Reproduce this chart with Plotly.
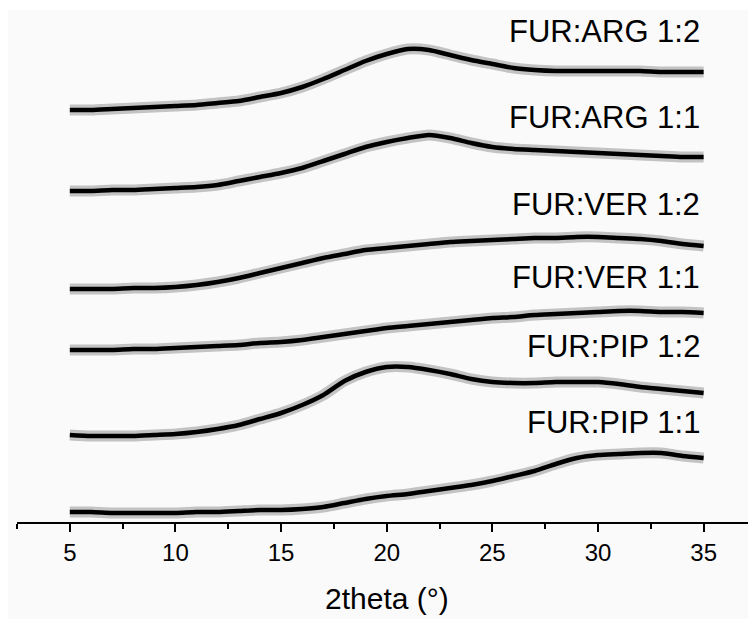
import plotly.graph_objects as go

two_theta = list(range(5, 36))

samples = ["FUR:ARG 1:2", "FUR:ARG 1:1", "FUR:VER 1:2", "FUR:VER 1:1", "FUR:PIP 1:2", "FUR:PIP 1:1"]

arg_1_2 = [412, 412, 413, 414, 415, 416, 417, 419, 421, 425, 429, 435, 443, 452, 461, 468,
           473, 472, 467, 462, 458, 454, 452, 451, 451, 451, 451, 451, 450, 450, 450]
arg_1_1 = [331, 331, 332, 332, 333, 334, 335, 337, 341, 345, 349, 354, 361, 368, 375, 380,
           384, 387, 384, 379, 375, 373, 372, 371, 370, 369, 368, 367, 366, 365, 365]
ver_1_2 = [233, 233, 233, 234, 234, 235, 237, 240, 244, 249, 254, 259, 264, 268, 272, 274,
           276, 278, 280, 281, 282, 283, 284, 284, 285, 285, 284, 283, 281, 278, 276]
ver_1_1 = [172, 172, 172, 173, 173, 174, 175, 176, 177, 179, 180, 182, 185, 188, 191, 194,
           196, 198, 200, 202, 204, 205, 207, 208, 209, 210, 211, 211, 210, 210, 209]
pip_1_2 = [87, 86, 86, 86, 87, 88, 90, 93, 97, 103, 109, 117, 127, 141, 150, 155,
           155, 152, 148, 143, 140, 139, 139, 140, 140, 140, 138, 135, 133, 131, 129]
pip_1_1 = [10, 10, 9, 9, 9, 9, 10, 10, 11, 12, 12, 13, 15, 19, 23, 26,
           28, 31, 34, 37, 41, 46, 51, 58, 64, 67, 68, 69, 69, 66, 64]

series = [arg_1_2, arg_1_1, ver_1_2, ver_1_1, pip_1_2, pip_1_1]
label_y = [491, 405, 318, 245, 176, 100]

x_ticks = [5, 10, 15, 20, 25, 30, 35]

FONT = "Liberation Sans, Arial"

fig = go.Figure()
for name, ys in zip(samples, series):
    fig.add_trace(go.Scatter(x=two_theta, y=ys, mode="lines", name=name + " halo",
                             line=dict(color="rgba(0,0,0,0.22)", width=11, shape="spline", smoothing=0.6),
                             hoverinfo="skip", showlegend=False))
    fig.add_trace(go.Scatter(x=two_theta, y=ys, mode="lines", name=name,
                             line=dict(color="black", width=4.5, shape="spline", smoothing=0.6),
                             showlegend=False))

for name, ly in zip(samples, label_y):
    fig.add_annotation(x=34.92, y=ly, text=name, showarrow=False, xanchor="right",
                       yanchor="middle", font=dict(family=FONT, size=31, color="black"))

fig.add_annotation(x=20, xref="x", y=-0.1475, yref="paper", text="2theta (°)", showarrow=False,
                   xanchor="center", yanchor="middle",
                   font=dict(family=FONT, size=30, color="black"))

fig.add_shape(type="rect", xref="paper", yref="paper", x0=-0.0123, x1=1.0, y0=-0.186, y1=0.9808,
              fillcolor="#fafafa", line=dict(width=0), layer="below")

fig.update_layout(
    width=748, height=619,
    margin=dict(l=17, r=0, t=0, b=97),
    paper_bgcolor="white", plot_bgcolor="rgba(0,0,0,0)",
    font=dict(family=FONT, color="black"),
    xaxis=dict(range=[2.5, 37.1], tickvals=x_ticks, ticks="outside", ticklen=8, tickwidth=2,
               tickcolor="black", showline=True, linecolor="black", linewidth=2,
               showgrid=False, zeroline=False, tickfont=dict(size=24),
               minor=dict(dtick=2.5, tick0=0, ticks="outside", ticklen=5, tickwidth=2, tickcolor="black")),
    yaxis=dict(range=[0, 522], visible=False, showgrid=False, zeroline=False),
)

fig.write_html("out.html")
